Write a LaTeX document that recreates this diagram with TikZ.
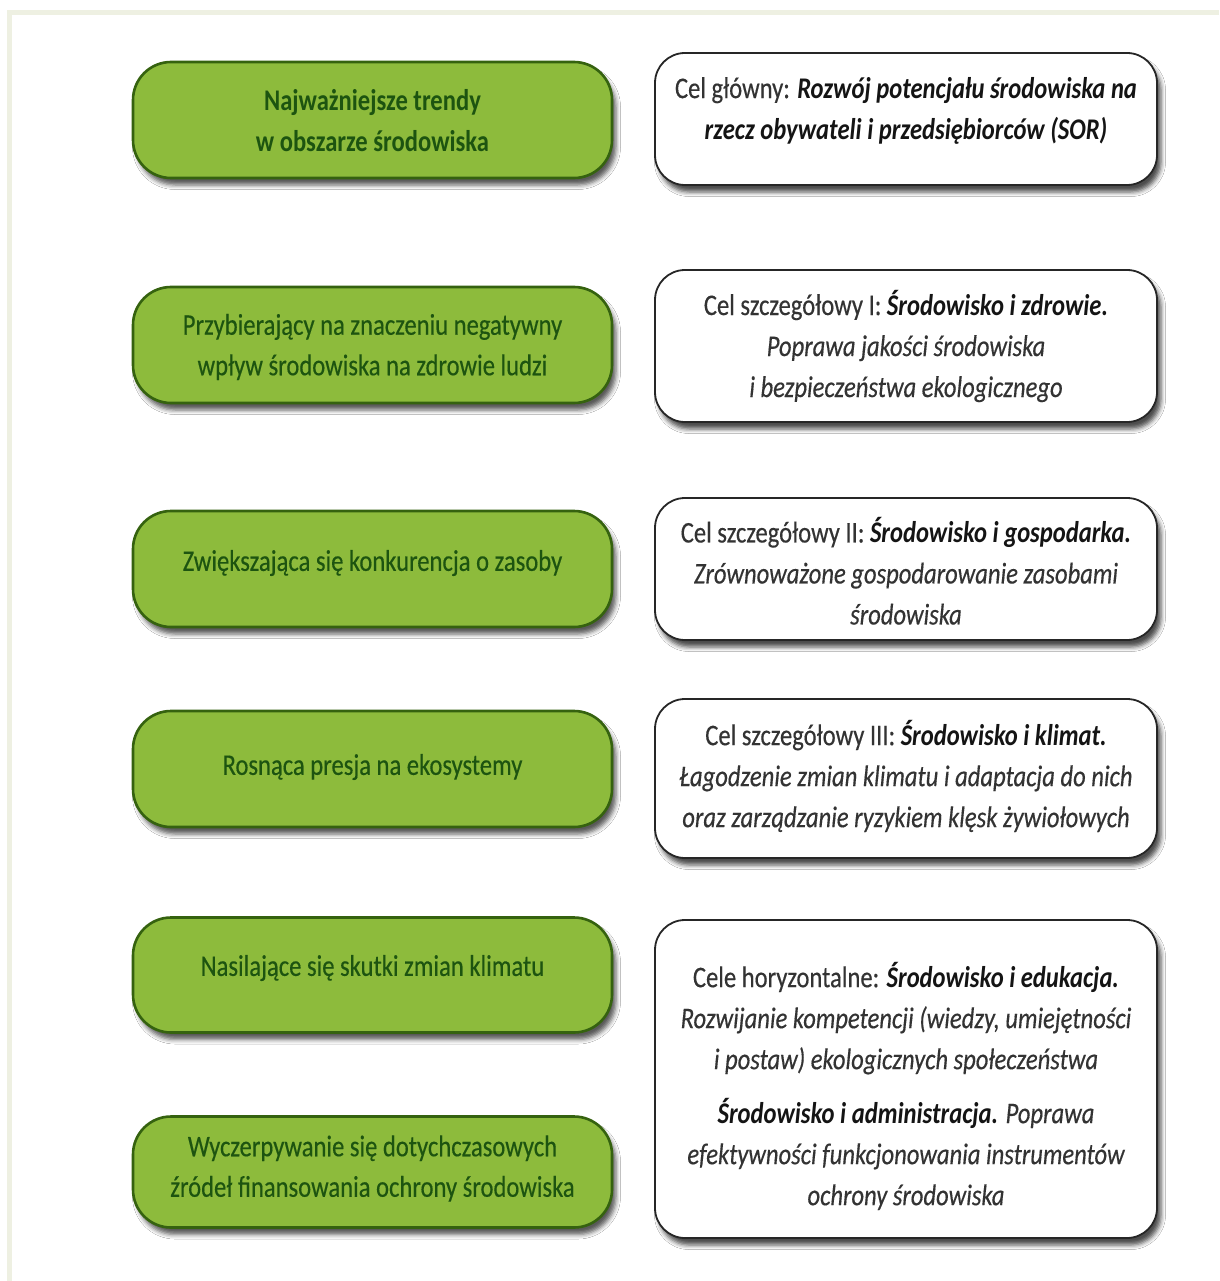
\documentclass[tikz,border=0pt]{standalone}
\usepackage{fontspec}
\setmainfont[FakeStretch=0.82, UprightFeatures={FakeBold=0.35}, ItalicFeatures={FakeBold=0.35}]{Carlito}
\usetikzlibrary{shadows.blur}
\definecolor{beige}{HTML}{EEF0E2}
\definecolor{gfill}{HTML}{8DBB3C}
\definecolor{gborder}{HTML}{35620F}
\definecolor{gtext}{HTML}{1D5410}
\definecolor{tgrey}{HTML}{333333}
\definecolor{tdark}{HTML}{141414}
\newcommand\bi[1]{{\color{tdark}\bfseries\itshape #1}}
\newcommand\ii[1]{{\itshape #1}}
\tikzset{
  gbox/.style={draw=gborder, line width=2.6pt, fill=gfill, rounded corners=38pt,
    minimum width=479pt, inner sep=0pt,
    blur shadow={shadow xshift=4pt, shadow yshift=-7pt, shadow blur radius=4.5pt, shadow opacity=65}},
  wbox/.style={draw=black!85, line width=1.8pt, fill=white, rounded corners=30pt,
    minimum width=502pt, inner sep=0pt,
    blur shadow={shadow xshift=4pt, shadow yshift=-7pt, shadow blur radius=4.5pt, shadow opacity=70}},
  gtxt/.style={align=center, text=gtext, font=\fontsize{30}{40.5}\selectfont, inner sep=0pt},
  wtxt/.style={align=center, text=tgrey, font=\fontsize{30}{41}\selectfont, inner sep=0pt}
}
\begin{document}
\begin{tikzpicture}[x=1pt,y=-1pt]
\useasboundingbox (0,0) rectangle (1219,1281);
\fill[beige] (7,10) rectangle (1219,1281);
\fill[white] (12,15) rectangle (1219,1281);

% green boxes
\node[gbox, minimum height=116pt] (g1) at (372.5,120) {};
\node[gbox, minimum height=116pt] (g2) at (372.5,345) {};
\node[gbox, minimum height=116pt] (g3) at (372.5,569) {};
\node[gbox, minimum height=116pt] (g4) at (372.5,769) {};
\node[gbox, minimum height=115pt] (g5) at (372.5,975) {};
\node[gbox, minimum height=111pt] (g6) at (372.5,1172) {};

\node[gtxt] (g1t) at (372.5,120.5) {\bfseries Najważniejsze trendy\\\bfseries w obszarze środowiska};
\node[gtxt] (g2t) at (372.5,347) {Przybierający na znaczeniu negatywny\\wpływ środowiska na zdrowie ludzi};
\node[gtxt] (g3t) at (372.5,563) {Zwiększająca się konkurencja o zasoby};
\node[gtxt] (g4t) at (372.5,767) {Rosnąca presja na ekosystemy};
\node[gtxt] (g5t) at (372.5,968) {Nasilające się skutki zmian klimatu};
\node[gtxt] (g6t) at (372.5,1168.5) {Wyczerpywanie się dotychczasowych\\źródeł finansowania ochrony środowiska};

% white boxes
\node[wbox, minimum height=132pt] (w1) at (906,119) {};
\node[wbox, minimum height=152pt] (w2) at (906,346) {};
\node[wbox, minimum height=142pt] (w3) at (906,569) {};
\node[wbox, minimum height=159pt] (w4) at (906,778.5) {};
\node[wbox, minimum height=318pt] (w5) at (906,1079) {};

\node[wtxt] (w1t) at (906,110.5) {Cel główny: \bi{Rozwój potencjału środowiska na}\\\bi{rzecz obywateli i przedsiębiorców (SOR)}};
\node[wtxt] (w2t) at (906,346) {Cel szczegółowy I: \bi{Środowisko i zdrowie.}\\\ii{Poprawa jakości środowiska}\\\ii{i bezpieczeństwa ekologicznego}};
\node[wtxt] (w3t) at (906,571) {Cel szczegółowy II: \bi{Środowisko i gospodarka.}\\\ii{Zrównoważone gospodarowanie zasobami}\\\ii{środowiska}};
\node[wtxt] (w4t) at (906,776) {Cel szczegółowy III: \bi{Środowisko i klimat.}\\\ii{Łagodzenie zmian klimatu i adaptacja do nich}\\\ii{oraz zarządzanie ryzykiem klęsk żywiołowych}};
\node[wtxt] (w5t) at (906,1086) {Cele horyzontalne: \bi{Środowisko i edukacja.}\\\ii{Rozwijanie kompetencji (wiedzy, umiejętności}\\\ii{i postaw) ekologicznych społeczeństwa}\\[13pt]\bi{Środowisko i administracja.} \ii{Poprawa}\\\ii{efektywności funkcjonowania instrumentów}\\\ii{ochrony środowiska}};
\end{tikzpicture}
\end{document}
